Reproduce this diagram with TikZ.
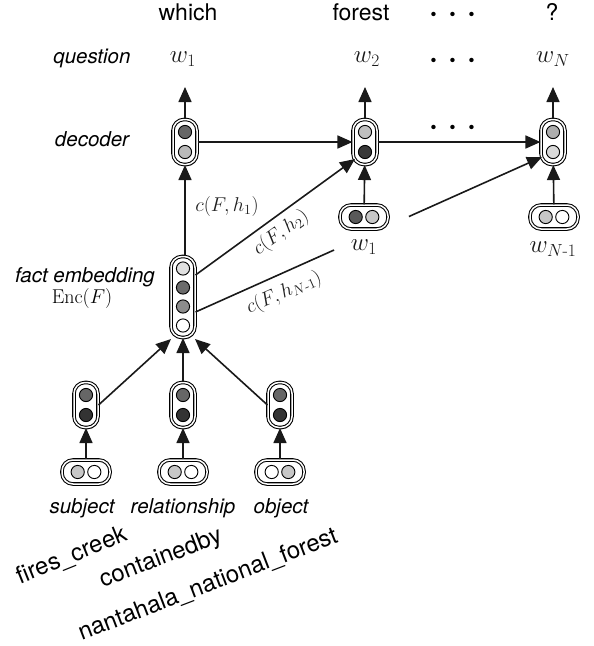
\RequirePackage{fix-cm}
\documentclass[tikz,border=0pt]{standalone}
\usepackage{amsmath}
\usepackage{fontspec}
\setsansfont{TeX Gyre Heros}
\usetikzlibrary{arrows.meta,calc,shadows}
\tikzset{
  unit/.style={draw=black, line width=1.05pt, double=white, double distance=1.5pt,
    rounded corners=11pt, fill=white, inner sep=0pt,
    drop shadow={shadow xshift=0.8pt, shadow yshift=-1.8pt, opacity=0.35, fill=black}},
  vcell/.style={unit, minimum width=24pt, minimum height=45pt},
  hcell/.style={unit, minimum width=48pt, minimum height=24pt},
  ball/.style={draw=black, line width=0.9pt},
  conn/.style={line width=1.6pt, draw=black!90},
  arr/.style={conn, -{Triangle[length=15pt,width=13pt]}},
  toptxt/.style={font=\sffamily\fontsize{23}{26}\selectfont, inner sep=0pt},
  side/.style={font=\sffamily\itshape\fontsize{20.5}{24}\selectfont, inner sep=0pt},
  mathl/.style={font=\fontsize{25}{29}\selectfont, text=black!90, inner sep=0pt},
  clab/.style={font=\fontsize{20}{24}\selectfont, text=black!88, inner sep=0pt},
  rotl/.style={font=\sffamily\fontsize{24}{28}\selectfont, inner sep=0pt},
  dotrow/.style={font=\boldmath\fontsize{28}{30}\selectfont, inner sep=0pt},
}
\newcommand{\vballs}[3]{%
  \draw[ball, fill=#2] ($(#1)+(0,-10)$) circle[radius=6.6pt];
  \draw[ball, fill=#3] ($(#1)+(0,10)$) circle[radius=6.6pt];}
\newcommand{\hballs}[3]{%
  \draw[ball, fill=#2] ($(#1)+(-8.3,0)$) circle[radius=6.6pt];
  \draw[ball, fill=#3] ($(#1)+(8.3,0)$) circle[radius=6.6pt];}
\newcommand{\threedots}{$\cdot$\hspace{10pt}$\cdot$\hspace{10pt}$\cdot$}
\begin{document}
\begin{tikzpicture}[x=1pt,y=-1pt]
\useasboundingbox (0,0) rectangle (594,646);
% top words
\node[toptxt] (tw1) at (188,12) {which};
\node[toptxt] (tw2) at (361,12) {forest};
\node[dotrow] (tdots) at (453,15) {\threedots};
\node[toptxt] (tw3) at (552,12) {?};
% side labels
\node[side] (lq) at (92,58) {question};
\node[side] (ld) at (92,139) {decoder};
\node[side] (lf) at (85,277) {fact embedding};
\node[clab, text=black] (le) at (82,298) {$\mathrm{Enc}(F)$};
% output words
\node[mathl] (w1) at (183,59) {$w_1$};
\node[mathl] (w2) at (367,59) {$w_2$};
\node[dotrow] (wdots) at (453,61) {\threedots};
\node[mathl] (wN) at (553,59) {$w_N$};
\node[dotrow] (ddots) at (453,128) {\threedots};
% decoder cells
\node[vcell] (d1) at (185,142) {};
\node[vcell] (d2) at (365,142) {};
\node[vcell] (dN) at (553,142) {};
\vballs{d1}{black!60}{black!27}
\vballs{d2}{black!25}{black!78}
\vballs{dN}{black!32}{black!15}
% decoder inputs
\node[hcell] (i1) at (364,217) {};
\node[hcell] (iN) at (554,217) {};
\hballs{i1}{black!65}{black!22}
\hballs{iN}{black!22}{white}
\node[mathl] (iw1) at (364,247) {$w_1$};
\node[mathl] (iwN) at (553,249) {$w_{N\text{-}1}$};
% fact embedding
\node[vcell, minimum height=81pt] (fe) at (183,297) {};
\draw[ball, fill=black!12] ($(fe)+(0,-28.5)$) circle[radius=6.6pt];
\draw[ball, fill=black!58] ($(fe)+(0,-9.5)$) circle[radius=6.6pt];
\draw[ball, fill=black!45] ($(fe)+(0,9.5)$) circle[radius=6.6pt];
\draw[ball, fill=white] ($(fe)+(0,28.5)$) circle[radius=6.6pt];
% encoders
\node[vcell] (e1) at (86,405) {};
\node[vcell] (e2) at (183,405) {};
\node[vcell] (e3) at (280,405) {};
\vballs{e1}{black!60}{black!80}
\vballs{e2}{black!60}{black!80}
\vballs{e3}{black!60}{black!80}
\node[hcell] (x1) at (86,472) {};
\node[hcell] (x2) at (183,472) {};
\node[hcell] (x3) at (280,472) {};
\hballs{x1}{black!22}{white}
\hballs{x2}{black!22}{white}
\hballs{x3}{white}{black!22}
\node[side] (ls) at (82,508) {subject};
\node[side] (lr) at (183,508) {relationship};
\node[side] (lo) at (281,508) {object};
\node[rotl, rotate=22] (r1) at (72,556) {fires\_creek};
\node[rotl, rotate=21] (r2) at (161,559) {containedby};
\node[rotl, rotate=21] (r3) at (208,585) {nantahala\_national\_forest};
% output arrows
\coordinate (o1) at (185,87);
\coordinate (o2) at (365,87);
\coordinate (oN) at (553,87);
\draw[arr] (d1) -- (o1);
\draw[arr] (d2) -- (o2);
\draw[arr] (dN) -- (oN);
\draw[arr] (d1) -- (d2);
\draw[arr] (d2) -- (dN);
\draw[arr] (i1) -- (d2);
\draw[arr] (iN) -- (dN);
% context arrows
\draw[arr] (fe.north -| d1) -- (d1.south);
\node[clab] (c1) at (227,206) {$c(F,h_1)$};
\coordinate (s2) at ($(fe.east)+(0,-22)$);
\coordinate (t2) at ($(d2.west)+(2.5,17)$);
\draw[arr] (s2) -- (t2);
\node[clab, rotate=36] (c2) at (281,233) {$c(F,h_2)$};
\coordinate (s3) at ($(fe.east)+(0,15)$);
\coordinate (t3) at ($(dN.west)+(1.5,15)$);
\coordinate (g1) at ($(s3)!0.4!(t3)$);
\coordinate (g2) at ($(s3)!0.616!(t3)$);
\draw[conn] (s3) -- (g1);
\draw[arr] (g2) -- (t3);
\node[clab, rotate=24] (c3) at (284,293) {$c(F,h_{N\text{-}1})$};
% encoder arrows
\coordinate (b1) at ($(fe.south)+(-12,1)$);
\coordinate (b3) at ($(fe.south)+(12,1)$);
\draw[arr] (e1.east) -- (b1);
\draw[arr] (e2) -- (fe);
\draw[arr] (e3.west) -- (b3);
\draw[arr] (x1) -- (e1);
\draw[arr] (x2) -- (e2);
\draw[arr] (x3) -- (e3);
\end{tikzpicture}
\end{document}
